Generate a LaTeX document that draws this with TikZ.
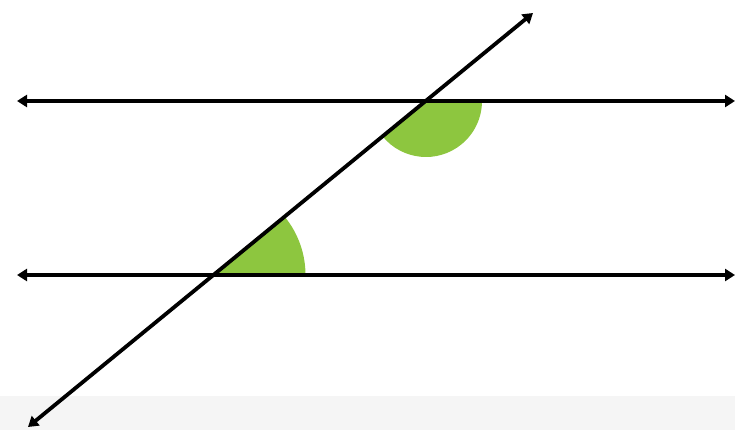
\documentclass[tikz,border=0pt]{standalone}
\usetikzlibrary{arrows.meta}
\definecolor{anglegreen}{RGB}{141,198,63}
\definecolor{bandgray}{RGB}{245,245,245}
\tikzset{
  dblarrow/.style={line width=3.8pt, {Triangle[length=10pt,width=12pt]}-{Triangle[length=10pt,width=12pt]}},
  sector/.style={fill=anglegreen, draw=none}
}
\begin{document}
\begin{tikzpicture}[x=1pt,y=-1pt]
\useasboundingbox (0,0) rectangle (735,430);
\fill[bandgray] (0,396) rectangle (735,430);
% intersection points
\coordinate (P) at (426,101);
\coordinate (Q) at (213.5,275);
% angle sectors
\fill[sector] (P) -- ++(-219.4:56) arc[start angle=-219.4, end angle=-360, radius=56] -- cycle;
\fill[sector] (Q) -- ++(0:92) arc[start angle=0, end angle=-39.4, radius=92] -- cycle;
% parallel lines
\coordinate (L1a) at (17,101);
\coordinate (L1b) at (735,101);
\coordinate (L2a) at (17,275);
\coordinate (L2b) at (735,275);
\draw[dblarrow] (L1a) -- (L1b);
\draw[dblarrow] (L2a) -- (L2b);
% transversal
\coordinate (Ta) at (28,427);
\coordinate (Tb) at (533,13);
\draw[dblarrow] (Ta) -- (Tb);
\end{tikzpicture}
\end{document}
